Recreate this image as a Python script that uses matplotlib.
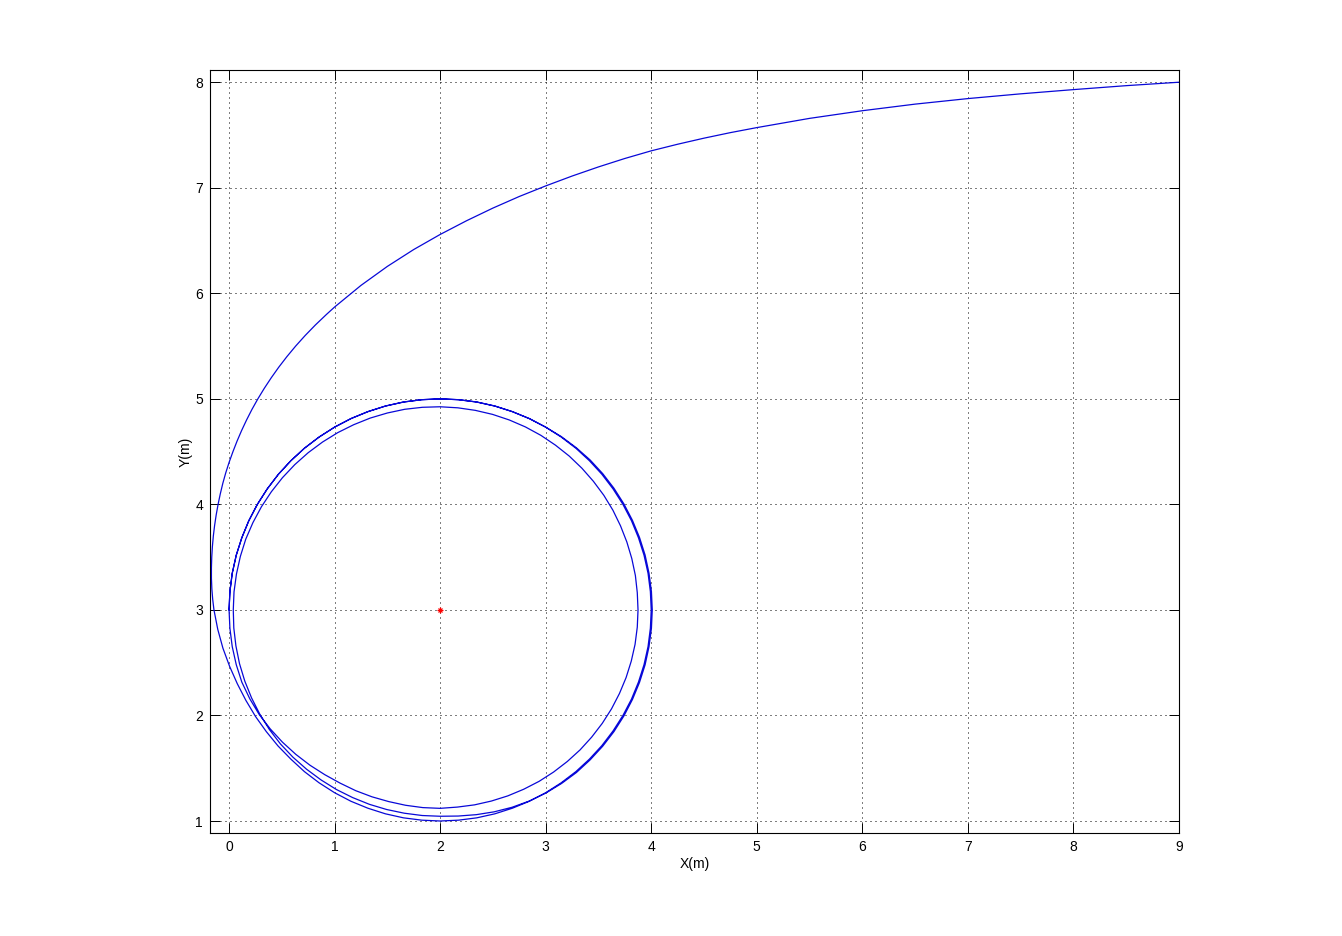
import matplotlib
matplotlib.use("Agg")
import matplotlib.pyplot as plt

plt.rcParams['font.family'] = ['Liberation Sans', 'DejaVu Sans']

# path, piece by piece
# approach from the start point (9, 8) down to the left side
approach_x = [9.0, 8.5, 8.0, 7.5, 7.0, 6.5, 6.0, 5.5, 5.0, 4.75, 4.5, 4.25, 4.0, 3.75, 3.5,
              3.25, 3.0, 2.75, 2.5, 2.25, 2.0, 1.75, 1.5, 1.25, 1.0,
              0.923, 0.818, 0.721, 0.631, 0.548, 0.471, 0.400, 0.334, 0.273, 0.217, 0.166,
              0.119, 0.076, 0.037, 0.001, -0.031, -0.059, -0.083, -0.104, -0.122, -0.137,
              -0.149, -0.158, -0.164, -0.167, -0.167, -0.163, -0.155, -0.143]
approach_y = [8.0, 7.9675, 7.93, 7.89, 7.845, 7.7925, 7.73, 7.6575, 7.57, 7.5225, 7.47,
              7.4125, 7.35, 7.2775, 7.1975, 7.111, 7.0175, 6.9175, 6.8075, 6.6875, 6.5575,
              6.415, 6.255, 6.075, 5.87,
              5.8, 5.7, 5.6, 5.5, 5.4, 5.3, 5.2, 5.1, 5.0, 4.9, 4.8,
              4.7, 4.6, 4.5, 4.4, 4.3, 4.2, 4.1, 4.0, 3.9, 3.8,
              3.7, 3.6, 3.5, 3.4, 3.3, 3.2, 3.1, 3.0]

# first loop
loop1_x = [-0.107, -0.058, 0.005, 0.078, 0.160, 0.251, 0.353, 0.464, 0.586, 0.714, 0.853,
           1.000, 1.155, 1.316, 1.482, 1.653, 1.826, 2.0, 2.174, 2.347, 2.518, 2.684, 2.845,
           3.0, 3.147, 3.286, 3.414, 3.532, 3.638, 3.732, 3.813, 3.879, 3.932, 3.970, 3.992,
           4.0,
           3.992, 3.970, 3.932, 3.879, 3.813, 3.732, 3.638, 3.532, 3.414, 3.286, 3.147, 3.0,
           2.845, 2.684, 2.518, 2.347, 2.174, 2.0, 1.826, 1.653, 1.482, 1.316, 1.155, 1.0,
           0.853, 0.714, 0.586, 0.468, 0.362, 0.268, 0.187, 0.121, 0.068, 0.030, 0.008, 0.0,
           0.008, 0.030, 0.068, 0.121, 0.196, 0.285]
loop1_y = [2.816, 2.637, 2.466, 2.301, 2.142, 1.990, 1.847, 1.711, 1.586, 1.468, 1.362,
           1.268, 1.187, 1.121, 1.068, 1.030, 1.008, 1.0, 1.008, 1.030, 1.068, 1.121, 1.187,
           1.268, 1.362, 1.468, 1.586, 1.714, 1.853, 2.0, 2.155, 2.316, 2.482, 2.653, 2.826,
           3.0,
           3.174, 3.347, 3.518, 3.684, 3.845, 4.0, 4.147, 4.286, 4.414, 4.532, 4.638, 4.732,
           4.813, 4.879, 4.932, 4.970, 4.992, 5.0, 4.992, 4.970, 4.932, 4.879, 4.813, 4.732,
           4.638, 4.532, 4.414, 4.286, 4.147, 4.0, 3.845, 3.684, 3.518, 3.347, 3.174, 3.0,
           2.826, 2.653, 2.482, 2.316, 2.159, 2.01]

# undershoot loop (inside the target circle)
loop2_x = [0.390, 0.506, 0.632, 0.766, 0.907, 1.052, 1.201, 1.355, 1.513, 1.673, 1.836,
           2.0, 2.164, 2.326, 2.485, 2.641, 2.792, 2.938, 3.075, 3.205, 3.326, 3.436, 3.536,
           3.624, 3.699, 3.762, 3.811, 3.847, 3.868, 3.875,
           3.868, 3.850, 3.816, 3.769, 3.709, 3.637, 3.551, 3.452, 3.343, 3.223, 3.093,
           2.955, 2.808, 2.655, 2.496, 2.333, 2.168, 2.0, 1.832, 1.664, 1.500, 1.338, 1.181,
           1.030, 0.886, 0.750, 0.623, 0.506, 0.401, 0.307, 0.226, 0.158, 0.107, 0.070,
           0.047, 0.04]
loop2_y = [1.873, 1.747, 1.632, 1.529, 1.439, 1.359, 1.287, 1.229, 1.184, 1.149, 1.127,
           1.12, 1.132, 1.153, 1.189, 1.238, 1.301, 1.376, 1.464, 1.564, 1.674, 1.795, 1.925,
           2.063, 2.208, 2.359, 2.515, 2.674, 2.837, 3.0,
           3.163, 3.326, 3.487, 3.644, 3.797, 3.945, 4.086, 4.219, 4.343, 4.458, 4.561,
           4.654, 4.734, 4.800, 4.853, 4.891, 4.915, 4.925, 4.920, 4.901, 4.866, 4.818, 4.755,
           4.680, 4.591, 4.490, 4.377, 4.253, 4.120, 3.978, 3.827, 3.670, 3.507, 3.340,
           3.171, 3.0]

# last loop, settled on the circle
loop3_x = [0.045, 0.065, 0.099, 0.149, 0.213, 0.291, 0.382, 0.487, 0.605, 0.734, 0.872,
           1.018, 1.171, 1.330, 1.493, 1.660, 1.830, 2.0, 2.171, 2.342, 2.512, 2.681, 2.844,
           3.002, 3.151, 3.292, 3.421, 3.540, 3.647, 3.741, 3.822, 3.889, 3.942, 3.979, 4.002,
           4.01,
           4.002, 3.979, 3.942, 3.889, 3.822, 3.741, 3.647, 3.540, 3.421, 3.290, 3.149, 3.0,
           2.845, 2.684, 2.518, 2.347, 2.174, 2.0, 1.826, 1.653, 1.482, 1.316, 1.155, 1.0,
           0.853, 0.714, 0.586, 0.468, 0.362, 0.268, 0.187, 0.121, 0.068, 0.030, 0.008, 0.0]
loop3_y = [2.829, 2.659, 2.491, 2.326, 2.167, 2.013, 1.867, 1.730, 1.605, 1.491, 1.389,
           1.298, 1.222, 1.158, 1.109, 1.074, 1.052, 1.045, 1.047, 1.060, 1.087, 1.130, 1.189,
           1.265, 1.356, 1.460, 1.579, 1.708, 1.847, 1.995, 2.151, 2.313, 2.480, 2.651, 2.825,
           3.0,
           3.175, 3.349, 3.520, 3.687, 3.849, 4.005, 4.153, 4.292, 4.421, 4.537, 4.642, 4.732,
           4.813, 4.879, 4.932, 4.970, 4.992, 5.0, 4.992, 4.970, 4.932, 4.879, 4.813, 4.732,
           4.638, 4.532, 4.414, 4.286, 4.147, 4.0, 3.845, 3.684, 3.518, 3.347, 3.174, 3.0]

target_x = [2.0]
target_y = [3.0]

x_ticks = list(range(0, 10))
y_ticks = list(range(1, 9))

traj_x = approach_x + loop1_x + loop2_x + loop3_x
traj_y = approach_y + loop1_y + loop2_y + loop3_y

fig = plt.figure(figsize=(13.42, 9.36), dpi=100)
ax = fig.add_axes([0.13, 0.11, 0.775, 0.815])

ax.plot(traj_x, traj_y, color='#0808d8', linewidth=0.9)
# matlab style asterisk = plus + cross
ax.plot(target_x, target_y, '+', color='red', markersize=5, markeredgewidth=0.9)
ax.plot(target_x, target_y, 'x', color='red', markersize=3.5, markeredgewidth=0.9)

ax.set_xlim(-0.18, 9)
ax.set_ylim(0.886, 8.114)
ax.set_aspect('equal')
ax.set_xticks(x_ticks)
ax.set_yticks(y_ticks)

ax.grid(True, color='black', linestyle=(0, (1, 4)), linewidth=0.72)
ax.tick_params(direction='in', length=7, width=0.7, top=True, right=True,
               labelsize=10, pad=5)
for s in ax.spines.values():
    s.set_linewidth(0.8)

ax.set_xlabel('X(m)', fontsize=10, labelpad=2)
ax.set_ylabel('Y(m)', fontsize=10, labelpad=2)

fig.savefig('out.png', dpi=100)
